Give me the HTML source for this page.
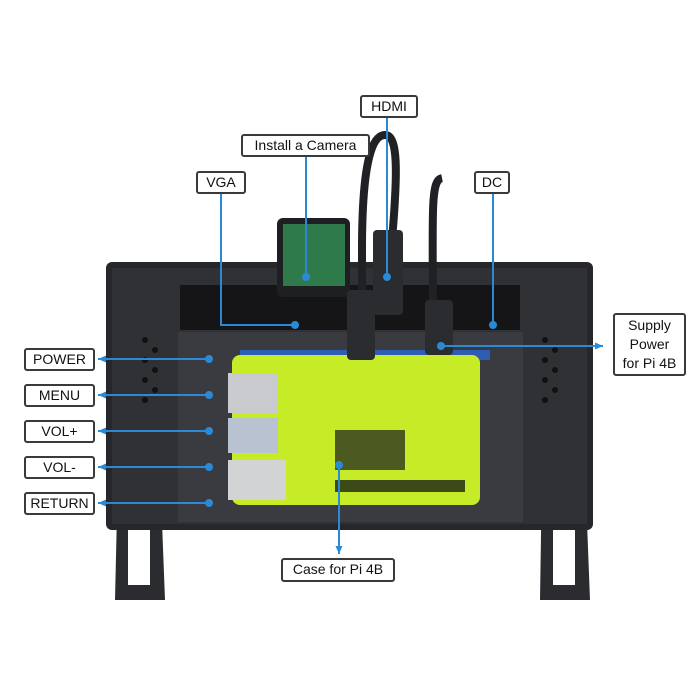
<!DOCTYPE html>
<html><head><style>
body{margin:0;background:#fff;}
.l{position:absolute;border:2px solid #3a3a3a;border-radius:3px;background:#fff;font-family:"Liberation Sans",sans-serif;font-size:14px;color:#111;text-align:center;box-sizing:border-box;line-height:19px;}
</style></head><body>
<div style="position:relative;width:700px;height:700px;overflow:hidden">
<svg width="700" height="700" style="position:absolute;left:0;top:0">
<defs><marker id="a" markerUnits="userSpaceOnUse" markerWidth="10" markerHeight="10" refX="8" refY="4" orient="auto"><path d="M0,0.5 L8,4 L0,7.5z" fill="#2a8ad6"/></marker></defs>
<!-- legs -->
<path d="M118,470 L160,470 L165,600 L115,600 Z" fill="#2b2c30"/>
<path d="M128,525 L150,525 L150,585 L128,585Z" fill="#fff"/>
<path d="M542,470 L585,470 L590,600 L540,600 Z" fill="#2b2c30"/>
<path d="M553,525 L575,525 L575,585 L553,585Z" fill="#fff"/>
<!-- frame -->
<rect x="106" y="262" width="487" height="268" rx="6" fill="#26272b"/>
<rect x="112" y="268" width="475" height="256" fill="#303135"/>
<rect x="180" y="285" width="340" height="45" fill="#151517"/>
<rect x="178" y="332" width="345" height="190" fill="#3a3b40"/>
<g fill="#111">
<circle cx="145" cy="340" r="3"/><circle cx="155" cy="350" r="3"/><circle cx="145" cy="360" r="3"/><circle cx="155" cy="370" r="3"/><circle cx="145" cy="380" r="3"/><circle cx="155" cy="390" r="3"/><circle cx="145" cy="400" r="3"/>
<circle cx="545" cy="340" r="3"/><circle cx="555" cy="350" r="3"/><circle cx="545" cy="360" r="3"/><circle cx="555" cy="370" r="3"/><circle cx="545" cy="380" r="3"/><circle cx="555" cy="390" r="3"/><circle cx="545" cy="400" r="3"/>
</g>
<rect x="240" y="350" width="250" height="10" fill="#2f5db3"/>
<!-- case -->
<rect x="232" y="355" width="248" height="150" rx="8" fill="#c6ec28"/>
<rect x="335" y="430" width="70" height="40" fill="#4a5a20"/>
<rect x="335" y="480" width="130" height="12" fill="#3c4a18"/>
<rect x="228" y="373" width="50" height="40" fill="#c9cbce"/>
<rect x="228" y="418" width="50" height="35" fill="#b9c2d0"/>
<rect x="228" y="460" width="58" height="40" fill="#d2d3d5"/>
<!-- camera -->
<rect x="277" y="218" width="73" height="79" rx="6" fill="#1e1f22"/>
<rect x="283" y="224" width="62" height="62" fill="#2f7a4a"/>
<!-- cables -->
<path d="M362,345 L362,250 C362,150 375,135 385,135 C398,135 398,170 392,240" stroke="#202124" stroke-width="8" fill="none"/>
<rect x="373" y="230" width="30" height="85" rx="4" fill="#2b2c2f"/>
<rect x="347" y="290" width="28" height="70" rx="4" fill="#2b2c2f"/>
<path d="M442,178 C432,180 432,200 433,300" stroke="#202124" stroke-width="8" fill="none"/>
<rect x="425" y="300" width="28" height="55" rx="4" fill="#2b2c2f"/>
<!-- lines -->
<g stroke="#2a8ad6" stroke-width="2" fill="none">
<path d="M221,194 L221,325 L295,325"/>
<path d="M306,157 L306,277"/>
<path d="M387,118 L387,277"/>
<path d="M493,194 L493,325"/>
<path d="M441,346 L603,346" marker-end="url(#a)"/>
<path d="M339,465 L339,554" marker-end="url(#a)"/>
<path d="M209,359 L98,359" marker-end="url(#a)"/>
<path d="M209,395 L98,395" marker-end="url(#a)"/>
<path d="M209,431 L98,431" marker-end="url(#a)"/>
<path d="M209,467 L98,467" marker-end="url(#a)"/>
<path d="M209,503 L98,503" marker-end="url(#a)"/>
</g>
<g fill="#2a8ad6">
<circle cx="295" cy="325" r="4"/><circle cx="306" cy="277" r="4"/><circle cx="387" cy="277" r="4"/><circle cx="493" cy="325" r="4"/><circle cx="441" cy="346" r="4"/><circle cx="339" cy="465" r="4"/>
<circle cx="209" cy="359" r="4"/><circle cx="209" cy="395" r="4"/><circle cx="209" cy="431" r="4"/><circle cx="209" cy="467" r="4"/><circle cx="209" cy="503" r="4"/>
</g>
</svg>
<div class="l" style="left:360px;top:95px;width:58px;height:23px">HDMI</div>
<div class="l" style="left:241px;top:134px;width:129px;height:23px">Install a Camera</div>
<div class="l" style="left:196px;top:171px;width:50px;height:23px">VGA</div>
<div class="l" style="left:474px;top:171px;width:36px;height:23px">DC</div>
<div class="l" style="left:613px;top:313px;width:73px;height:63px;line-height:19px;padding-top:1px">Supply<br>Power<br>for Pi 4B</div>
<div class="l" style="left:24px;top:348px;width:71px;height:23px">POWER</div>
<div class="l" style="left:24px;top:384px;width:71px;height:23px">MENU</div>
<div class="l" style="left:24px;top:420px;width:71px;height:23px">VOL+</div>
<div class="l" style="left:24px;top:456px;width:71px;height:23px">VOL-</div>
<div class="l" style="left:24px;top:492px;width:71px;height:23px">RETURN</div>
<div class="l" style="left:281px;top:558px;width:114px;height:24px">Case for Pi 4B</div>
</div>
</body></html>
